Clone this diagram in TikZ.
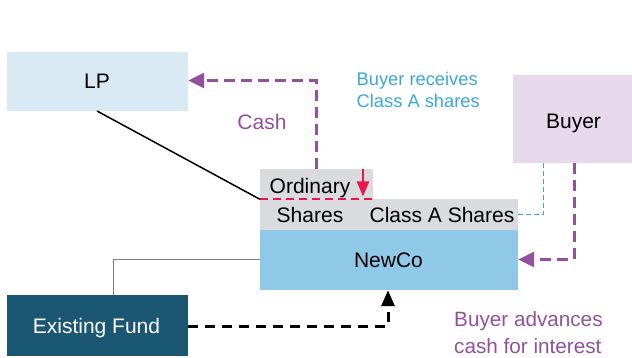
\documentclass[tikz,border=0pt]{standalone}
\usepackage{fontspec}
\setmainfont{Liberation Sans}
\usetikzlibrary{arrows.meta}
\definecolor{lpfill}{HTML}{D9EAF4}
\definecolor{buyerfill}{HTML}{E8D8EB}
\definecolor{greyfill}{HTML}{D9DBDE}
\definecolor{newcofill}{HTML}{8FC9E7}
\definecolor{fundfill}{HTML}{1B5673}
\definecolor{purp}{HTML}{93509D}
\definecolor{redc}{HTML}{E8174A}
\definecolor{bluetxt}{HTML}{3AA6DD}
\tikzset{
  box/.style={rectangle, inner sep=0pt, minimum width=#1},
  lbl/.style={font=\fontsize{21}{25}\selectfont, inner sep=0pt, anchor=base},
  purpflow/.style={purp, line width=3pt, dash pattern=on 11pt off 6pt, -{Triangle[length=16pt,width=15pt]}},
  blackflow/.style={black, line width=3pt, dash pattern=on 10pt off 7pt, -{Triangle[length=16pt,width=13pt]}},
}
\begin{document}
\begin{tikzpicture}[x=1pt,y=-1pt]
\useasboundingbox (0,0) rectangle (632,358);
% boxes
\node[box=181pt, minimum height=59pt, fill=lpfill] (lp) at (97.5,81.5) {};
\node[lbl] (lptxt) at (97,89) {LP};
\node[box=119pt, minimum height=88pt, fill=buyerfill] (buyer) at (572.5,119) {};
\node[lbl] (buyertxt) at (573.5,128.3) {Buyer};
\node[box=113pt, minimum height=30pt, fill=greyfill] (ord) at (316.5,184) {};
\node[box=258pt, minimum height=31pt, fill=greyfill] (shares) at (389,214.5) {};
\node[box=258pt, minimum height=60pt, fill=newcofill] (newco) at (389,260) {};
\node[lbl] (newcotxt) at (388.5,267.3) {NewCo};
\node[box=181pt, minimum height=61pt, fill=fundfill] (fund) at (97.5,325.5) {};
\node[lbl, text=white] (fundtxt) at (96.5,333.3) {Existing Fund};
% share texts
\node[lbl] (ordtxt) at (310,193.5) {Ordinary};
\node[lbl] (shtxt) at (310,222.5) {Shares};
\node[lbl] (clatxt) at (442,222.5) {Class A Shares};
% connectors
\coordinate (lpline) at (97,111);
\draw[black, line width=1.5pt] (lpline) -- (ord.south west);
\draw[gray, line width=1pt] (fund.north -| 113,0) |- (newco.west);
\draw[redc, line width=2pt, dash pattern=on 8pt off 5pt] (ord.south west) -- (ord.south east);
\draw[redc, line width=2.2pt, -{Triangle[length=15pt,width=12pt]}] (363,169) -- (363,196.5);
\draw[purpflow] (316,169) |- (lp.east |- 0,80.5);
\draw[purpflow] (buyer.south -| 574,0) |- (newco.east |- 0,259.5);
\draw[bluetxt, line width=1pt, dash pattern=on 5pt off 3pt] (shares.east) -| (buyer.south -| 543.5,0);
\draw[blackflow] (fund.east |- 0,326) -| (newco.south -| 388,0);
% labels
\node[lbl, text=purp] (cash) at (262,130) {Cash};
\node[font=\fontsize{18.3}{22}\selectfont, text=bluetxt, align=left, anchor=base west, inner sep=0pt] (recv) at (356.5,108) {Buyer receives\\Class A shares};
\node[font=\fontsize{20.7}{26.7}\selectfont, text=purp, align=left, anchor=base west, inner sep=0pt] (adv) at (454,353.3) {Buyer advances\\cash for interest};
\end{tikzpicture}
\end{document}
